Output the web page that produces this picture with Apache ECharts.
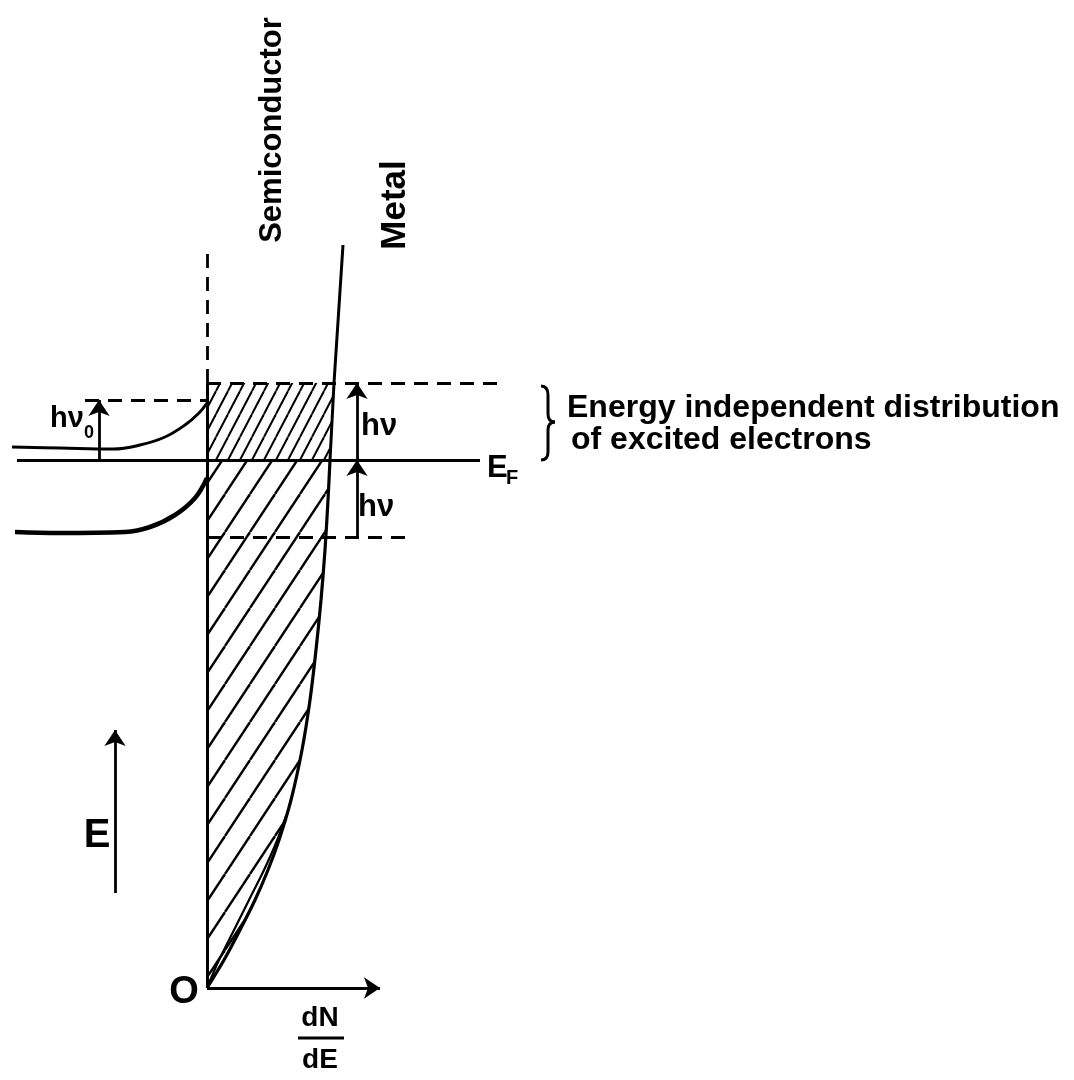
<!DOCTYPE html>
<html><head><meta charset="utf-8">
<script src="https://cdn.jsdelivr.net/npm/echarts@6/dist/echarts.min.js"></script>
<style>html,body{margin:0;padding:0;background:#fff}#c{width:1074px;height:1080px}</style>
</head><body><div id="c"></div>
<script>
// Energy E (vertical) measured from the bottom of the metal band O; dN/dE horizontal
const fermiLevel = 528;
const excitedTop = 605;      // E_F + hν
const excitedBottom = 451;   // E_F - hν
const barrierLevel = 588;    // E_F + hν0
const metalDos = [[0,0],[17,28],[33,58],[48,88],[61,118],[72,148],[84,188],[95,238],[103,288],[109,338],[114,388],[118,438],[121,488],[123,528]];
const metalDosInner = [[0,0],[12,28],[27,58],[42,88],[57,118],[69,145],[79,172]];
const metalDosUpper = [[123,528],[127,605],[136,743]];
const scConduction = [[-195,541],[-147,540],[-94,539],[-67,543],[-42,551],[-22,563],[-8,575],[0,585]];
const scValence = [[-192,456],[-147,455],[-82,456],[-57,461],[-32,473],[-12,490],[0,510]];
const interfaceTop = 743;
const fermiSpan = [-190, 273];
const topDashEnd = 291;
const bottomDashEnd = 198;
const barrierDashStart = -122;
const hvArrowX = 150;
const hv0ArrowX = -108;
const eArrow = [[-92,95],[-92,258]];
const dndeArrow = [[0,0],[173,0]];

function hatch(s, h, lw){
  const c = document.createElement('canvas'); c.width = s; c.height = h;
  const ctx = c.getContext('2d'); ctx.strokeStyle = '#000'; ctx.lineWidth = lw;
  for (let k = -1; k <= 1; k++) { ctx.beginPath(); ctx.moveTo(k*s, h); ctx.lineTo(k*s+s, 0); ctx.stroke(); }
  return c;
}
const fineHatch = {image: hatch(12, 23, 2), repeat: 'repeat'};
const coarseHatch = {image: hatch(25, 38, 2.4), repeat: 'repeat'};

const topRegion = [[0,fermiLevel],metalDosUpper[0],metalDosUpper[1],[0,excitedTop]];
const lowRegion = metalDos.concat([[0,fermiLevel]]);

function poly(points, fill){
  return {type:'custom', silent:true, z:1, data:[0],
    renderItem:(p, api)=>({type:'polygon', shape:{points: points.map(q=>api.coord(q))}, style:{fill: fill, stroke: null}})};
}
function curve(pts, w, smooth){
  return {type:'line', data:pts, smooth:smooth, showSymbol:false, silent:true, z:3,
    lineStyle:{color:'#000', width:w, opacity:1}};
}
const solid = {color:'#000', width:3, type:'solid', opacity:1};
const dashed = {color:'#000', width:2.8, type:[14,9], opacity:1};
const F = '"Liberation Sans"';
function txt(x, y, s, size, align, rot){
  return {type:'text', x:x, y:y, rotation:rot||0, style:{text:s, font:'bold '+size+'px '+F, textAlign:align||'left', textVerticalAlign:'middle', fill:'#000'}};
}

const chart = echarts.init(document.getElementById('c'), null, {renderer:'canvas'});
chart.setOption({
  animation:false,
  backgroundColor:'#fff',
  grid:{left:0,right:0,top:0,bottom:0},
  xAxis:{type:'value', min:-207, max:867, show:false},
  yAxis:{type:'value', min:-92, max:988, show:false},
  series:[
    poly(topRegion, fineHatch),
    poly(lowRegion, coarseHatch),
    curve(metalDos, 3.2, 0.3),
    curve(metalDosInner, 2.2, 0.3),
    curve(metalDosUpper, 3, 0),
    curve(scConduction, 3, 0.4),
    curve(scValence, 4.5, 0.4),
    {type:'lines', coordinateSystem:'cartesian2d', silent:true, z:3, lineStyle:solid, symbol:'none',
     data:[
       {coords:[[fermiSpan[0],fermiLevel],[fermiSpan[1],fermiLevel]]},
       {coords:[[0,0],[0,excitedTop]]}
     ]},
    {type:'lines', coordinateSystem:'cartesian2d', silent:true, z:3, lineStyle:dashed, symbol:'none',
     data:[
       {coords:[[0,excitedTop],[topDashEnd,excitedTop]]},
       {coords:[[0,excitedBottom],[bottomDashEnd,excitedBottom]]},
       {coords:[[barrierDashStart,barrierLevel],[0,barrierLevel]]},
       {coords:[[0,excitedTop],[0,interfaceTop]]}
     ]},
    {type:'lines', coordinateSystem:'cartesian2d', silent:true, z:4, lineStyle:{color:'#000', width:2.8, opacity:1},
     symbol:['none','arrow'], symbolSize:[11,16],
     data:[
       {coords:[[hvArrowX,fermiLevel],[hvArrowX,excitedTop]]},
       {coords:[[hvArrowX,excitedBottom],[hvArrowX,fermiLevel]]},
       {coords:[[hv0ArrowX,fermiLevel],[hv0ArrowX,barrierLevel]]},
       {coords:eArrow},
       {coords:dndeArrow}
     ]}
  ],
  graphic:[
    txt(272, 130, 'Semiconductor', 31, 'center', Math.PI/2),
    txt(395, 205, 'Metal', 35, 'center', Math.PI/2),
    txt(567, 408, 'Energy independent distribution', 32),
    txt(571, 440, 'of excited electrons', 32),
    {type:'bezierCurve', shape:{x1:541, y1:386, cpx1:548, cpy1:386, x2:548, y2:395}, style:{stroke:'#000', lineWidth:3, fill:null}},
    {type:'line', shape:{x1:548, y1:395, x2:548, y2:414}, style:{stroke:'#000', lineWidth:3}},
    {type:'bezierCurve', shape:{x1:548, y1:414, cpx1:548, cpy1:422, x2:555, y2:422}, style:{stroke:'#000', lineWidth:3, fill:null}},
    {type:'bezierCurve', shape:{x1:555, y1:422, cpx1:548, cpy1:422, x2:548, y2:430}, style:{stroke:'#000', lineWidth:3, fill:null}},
    {type:'line', shape:{x1:548, y1:430, x2:548, y2:452}, style:{stroke:'#000', lineWidth:3}},
    {type:'bezierCurve', shape:{x1:548, y1:452, cpx1:548, cpy1:460, x2:541, y2:460}, style:{stroke:'#000', lineWidth:3, fill:null}},
    txt(361, 426, 'hν', 31),
    txt(358, 507, 'hν', 31),
    txt(50, 419, 'hν', 29),
    txt(84, 433, '0', 18),
    txt(487, 468, 'E', 31),
    txt(506, 478, 'F', 20),
    txt(184, 993, 'O', 38, 'center'),
    txt(97, 836, 'E', 40, 'center'),
    txt(320, 1018, 'dN', 28, 'center'),
    {type:'line', shape:{x1:298, y1:1038, x2:344, y2:1038}, style:{stroke:'#000', lineWidth:3}},
    txt(320, 1060, 'dE', 28, 'center')
  ]
});
</script></body></html>
